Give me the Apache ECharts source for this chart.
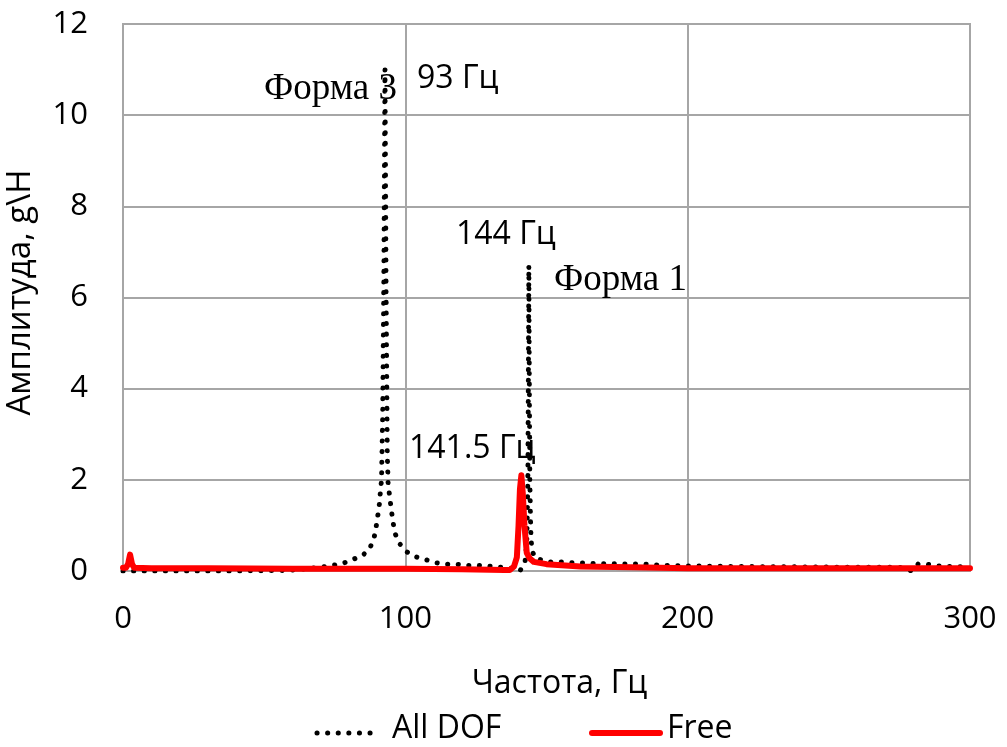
<!DOCTYPE html>
<html>
<head>
<meta charset="utf-8">
<script src="https://cdn.jsdelivr.net/npm/echarts@6/dist/echarts.min.js"></script>
<style>html,body{margin:0;padding:0;background:#fff}#c{width:1007px;height:747px}</style>
</head>
<body>
<div id="c"></div>
<script>
// ---- data ----
const allDofFreq = [0, 20, 40, 55, 60, 65, 70, 74, 78, 81.6, 84.9, 87.5, 88.9, 89.6, 90.1, 90.7, 91.0, 91.4, 91.6, 92.0, 92.4, 92.8, 93.2, 93.6, 93.9, 94.6, 95.2, 95.7, 96.3, 98.1, 100.5, 103.8, 107.7, 111, 114.6, 118, 122, 125.8, 129.3, 132.8, 136, 138.5, 140.6, 142.4, 143.0, 143.4, 143.6, 143.75, 143.9, 144.1, 144.4, 144.8, 146, 148.3, 151, 154, 160, 170, 185, 189, 200, 215, 240, 260, 275, 279.5, 281.6, 284.8, 288.4, 292, 300];
const allDofAmp  = [0, 0, 0, 0.01, 0.02, 0.05, 0.08, 0.12, 0.17, 0.26, 0.34, 0.51, 0.72, 0.94, 1.16, 1.39, 1.63, 1.87, 2.1, 3.5, 6.5, 11.0, 6.0, 2.6, 1.92, 1.56, 1.27, 1.05, 0.83, 0.59, 0.42, 0.31, 0.24, 0.18, 0.15, 0.15, 0.12, 0.12, 0.11, 0.09, 0.07, 0.04, 0.0, 0.2, 0.6, 2.0, 4.5, 6.7, 4.5, 2.0, 0.9, 0.46, 0.28, 0.24, 0.2, 0.2, 0.18, 0.16, 0.15, 0.13, 0.11, 0.1, 0.09, 0.08, 0.08, 0.0, 0.15, 0.15, 0.11, 0.1, 0.09];
const freeFreq = [0, 1, 1.8, 2.5, 3.2, 4, 10, 30, 60, 100, 120, 130, 135, 137, 138.5, 139.5, 140.1, 140.6, 141.1, 141.6, 142.2, 143, 144, 145.5, 150, 162, 180, 200, 250, 300];
const freeAmp  = [0.07, 0.07, 0.15, 0.36, 0.15, 0.07, 0.06, 0.06, 0.05, 0.05, 0.04, 0.03, 0.02, 0.02, 0.1, 0.3, 1.0, 1.8, 2.1, 1.7, 1.0, 0.4, 0.28, 0.2, 0.15, 0.1, 0.08, 0.06, 0.06, 0.06];
const seriesNames = ['All DOF', 'Free'];
const xTitle = 'Частота, Гц';
const yTitle = 'Амплитуда, g\\H';
const notes = [
  {text: 'Форма 3', x: 264, y: 93, serif: true},
  {text: '93 Гц', x: 417, y: 83, serif: false},
  {text: '144 Гц', x: 456, y: 239, serif: false},
  {text: 'Форма 1', x: 554, y: 284, serif: true},
  {text: '141.5 Гц', x: 409, y: 453, serif: false}
];

const sans = '"Open Sans", "Noto Sans", sans-serif';
const serif = '"Liberation Serif", "DejaVu Serif", serif';
const gridColor = '#a6a6a6';
const dotDash = [0.1, 10.5];

const chart = echarts.init(document.getElementById('c'), null, {renderer: 'canvas'});
chart.setOption({
  backgroundColor: '#fff',
  animation: false,
  grid: {left: 123, right: 37, top: 24, bottom: 176, show: true, borderColor: gridColor, borderWidth: 2,
         containLabel: false, outerBoundsMode: 'none'},
  xAxis: {
    type: 'value', min: 0, max: 300, interval: 100,
    name: xTitle, nameLocation: 'middle', nameGap: 97,
    nameTextStyle: {fontFamily: sans, fontSize: 32, color: '#000', padding: [0, 0, 0, 26]},
    axisLine: {show: true, lineStyle: {color: gridColor, width: 2}},
    axisTick: {show: false},
    axisLabel: {fontFamily: sans, fontSize: 31, color: '#000', margin: 33},
    splitLine: {show: true, lineStyle: {color: gridColor, width: 2}}
  },
  yAxis: {
    type: 'value', min: 0, max: 12, interval: 2,
    name: yTitle, nameLocation: 'middle', nameGap: 86, nameRotate: 90,
    nameTextStyle: {fontFamily: sans, fontSize: 33, color: '#000', padding: [0, 0, 0, 10]},
    axisLine: {show: true, lineStyle: {color: gridColor, width: 2}},
    axisTick: {show: false},
    axisLabel: {fontFamily: sans, fontSize: 31, color: '#000', margin: 35},
    splitLine: {show: true, lineStyle: {color: gridColor, width: 2}}
  },
  legend: {show: false, data: seriesNames},
  series: [
    {
      name: seriesNames[0], type: 'line', symbol: 'none', smooth: false,
      data: allDofFreq.map((f, i) => [f, allDofAmp[i]]),
      lineStyle: {color: '#000', width: 5, type: dotDash, cap: 'round', join: 'round'},
      itemStyle: {color: '#000'}
    },
    {
      name: seriesNames[1], type: 'line', symbol: 'none', smooth: false,
      data: freeFreq.map((f, i) => [f, freeAmp[i]]),
      lineStyle: {color: '#ff0000', width: 6, cap: 'round', join: 'round'},
      itemStyle: {color: '#ff0000'}
    }
  ],
  graphic: notes.map(n => ({
    type: 'text', left: n.x, top: n.y - (n.serif ? 22 : 20), z: 100,
    style: {text: n.text, fill: '#000', font: (n.serif ? '37px ' + serif : '32px ' + sans)}
  })).concat([
    {type: 'line', z: 100, shape: {x1: 317, y1: 733, x2: 380, y2: 733},
     style: {stroke: '#000', lineWidth: 5, lineDash: dotDash, lineCap: 'round'}},
    {type: 'text', left: 392, top: 713, z: 100,
     style: {text: seriesNames[0], fill: '#000', font: '32px ' + sans}},
    {type: 'line', z: 100, shape: {x1: 592, y1: 733, x2: 660, y2: 733},
     style: {stroke: '#ff0000', lineWidth: 6, lineCap: 'round'}},
    {type: 'text', left: 667, top: 713, z: 100,
     style: {text: seriesNames[1], fill: '#000', font: '32px ' + sans}}
  ])
});
</script>
</body>
</html>
